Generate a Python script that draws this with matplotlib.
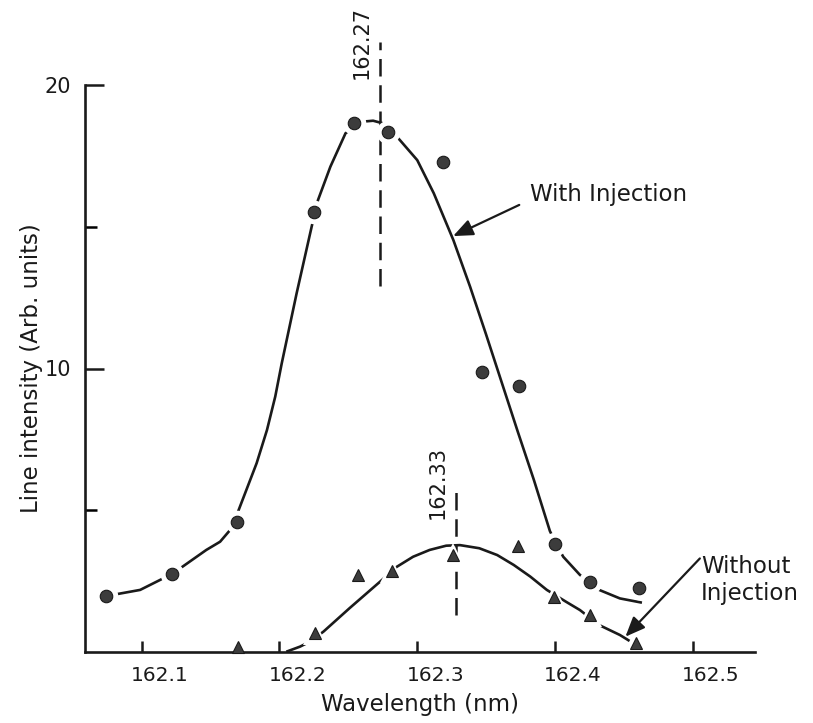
import matplotlib
matplotlib.use('Agg')
import matplotlib.pyplot as plt
from matplotlib.transforms import ScaledTranslation

# measured points, with injection (circles)
with_x = [162.074, 162.122, 162.169, 162.225, 162.254, 162.279, 162.319, 162.347,
          162.374, 162.400, 162.425, 162.461]
with_y = [1.99, 2.75, 4.60, 15.52, 18.67, 18.33, 17.28, 9.89, 9.38, 3.81, 2.48, 2.27]

# measured points, without injection (triangles)
without_x = [162.170, 162.226, 162.257, 162.282, 162.326, 162.373, 162.399, 162.425, 162.459]
without_y = [0.16, 0.66, 2.72, 2.86, 3.42, 3.74, 1.93, 1.31, 0.31]

# hand drawn fit curves
with_fit_x = [162.074, 162.099, 162.122, 162.128, 162.147, 162.157, 162.1642, 162.170,
              162.176, 162.1835, 162.191, 162.197, 162.2017, 162.2125, 162.2234,
              162.228, 162.237, 162.248, 162.261, 162.268, 162.275, 162.287, 162.300,
              162.312, 162.3262, 162.3383, 162.3498, 162.3614, 162.3730, 162.3846,
              162.3962, 162.4001, 162.4059, 162.418, 162.432, 162.447, 162.463]
with_fit_y = [1.97, 2.19, 2.75, 2.95, 3.60, 3.89, 4.30, 4.95,
              5.71, 6.66, 7.83, 9.01, 10.18, 12.65, 15.00,
              15.94, 17.12, 18.30, 18.71, 18.74, 18.65, 18.08, 17.35,
              16.18, 14.53, 12.89, 11.22, 9.49, 7.76, 6.07,
              4.27, 3.88, 3.36, 2.72, 2.19, 1.89, 1.74]

without_fit_x = [162.205, 162.215, 162.222, 162.232, 162.251, 162.273, 162.285, 162.297,
                 162.309, 162.321, 162.331, 162.345, 162.358, 162.370, 162.382, 162.394,
                 162.408, 162.418, 162.432, 162.447, 162.454]
without_fit_y = [0.01, 0.19, 0.36, 0.72, 1.55, 2.48, 3.00, 3.36,
                 3.60, 3.75, 3.77, 3.66, 3.42, 3.07, 2.66, 2.19,
                 1.77, 1.48, 0.95, 0.60, 0.39]

peak_with = 162.273
peak_without = 162.328
x_ticks = [162.1, 162.2, 162.3, 162.4, 162.5]
x_tick_labels = ['162.1', '162.2', '162.3', '162.4', '162.5']

INK = '#1a1a1a'
DOT = '#3c3c3c'
WORD_SIZE = 16.5
NUM_SIZE = 14.5


def draw_series(ax, fit_x, fit_y, pts_x, pts_y, marker, size):
    ax.plot(fit_x, fit_y, color=INK, lw=1.9, zorder=2, solid_capstyle='butt',
            solid_joinstyle='round')
    # white halo so the curve breaks around each point, like the original
    ax.plot(pts_x, pts_y, ls='none', marker=marker, ms=size + 8, color='white',
            mew=0, zorder=2.2, clip_on=False)
    ax.plot(pts_x, pts_y, ls='none', marker=marker, ms=size, mfc=DOT, mec=INK,
            mew=0.8, zorder=3, clip_on=False)


fig = plt.figure(figsize=(8.13, 7.23), dpi=100)
ax = fig.add_axes([85 / 813, 71 / 723, 670 / 813, 567 / 723])

draw_series(ax, with_fit_x, with_fit_y, with_x, with_y, 'o', 9)
draw_series(ax, without_fit_x, without_fit_y, without_x, without_y, '^', 9)

# peak markers
ax.plot([peak_with, peak_with], [12.9, 21.5], color=INK, lw=1.8,
        dashes=(7, 3.5), clip_on=False)
ax.text(peak_with - 0.013, 21.5, '162.27', rotation=90, ha='center', va='center',
        fontsize=NUM_SIZE + 0.5, color=INK)
ax.plot([peak_without, peak_without], [1.31, 5.65], color=INK, lw=1.8,
        dashes=(7, 3.5), clip_on=False)
ax.text(peak_without - 0.013, 5.98, '162.33', rotation=90, ha='center', va='center',
        fontsize=NUM_SIZE + 0.5, color=INK)

arrow = dict(arrowstyle='-|>,head_length=0.6,head_width=0.25', color=INK, lw=1.6,
             mutation_scale=20, shrinkA=0, shrinkB=0)
ax.annotate('', xy=(162.326, 14.67), xytext=(162.374, 15.77), arrowprops=arrow)
ax.text(162.382, 16.14, 'With Injection', ha='left', va='center',
        fontsize=WORD_SIZE, color=INK)
ax.annotate('', xy=(162.451, 0.54), xytext=(162.505, 3.30), arrowprops=arrow,
            annotation_clip=False)
ax.text(162.506, 2.54, 'Without\nInjection', ha='left', va='center',
        fontsize=WORD_SIZE, color=INK, linespacing=1.2, clip_on=False)

ax.set_xlim(162.059, 162.545)
ax.set_ylim(0, 20)
for side in ('top', 'right'):
    ax.spines[side].set_visible(False)
for side in ('left', 'bottom'):
    ax.spines[side].set_linewidth(1.9)
    ax.spines[side].set_color(INK)

ax.set_xticks(x_ticks, x_tick_labels)
ax.set_yticks([10, 20], ['10', '20'])
ax.set_yticks([5, 15], minor=True)
ax.tick_params(axis='x', direction='in', length=8, width=1.8, pad=10,
               labelsize=NUM_SIZE, colors=INK)
ax.tick_params(axis='y', which='major', direction='in', length=14, width=1.8, pad=10,
               labelsize=NUM_SIZE + 0.5, colors=INK)
ax.tick_params(axis='y', which='minor', direction='in', length=8.5, width=1.8)

# the printed tick labels sit a little to the right of their ticks
shift = ScaledTranslation(18 / 100, 0, fig.dpi_scale_trans)
for label in ax.get_xticklabels():
    label.set_transform(label.get_transform() + shift)

ax.set_xlabel('Wavelength (nm)', fontsize=WORD_SIZE, color=INK, labelpad=6)
ax.set_ylabel('Line intensity (Arb. units)', fontsize=WORD_SIZE, color=INK, labelpad=1)

fig.savefig('out.png', dpi=100)
